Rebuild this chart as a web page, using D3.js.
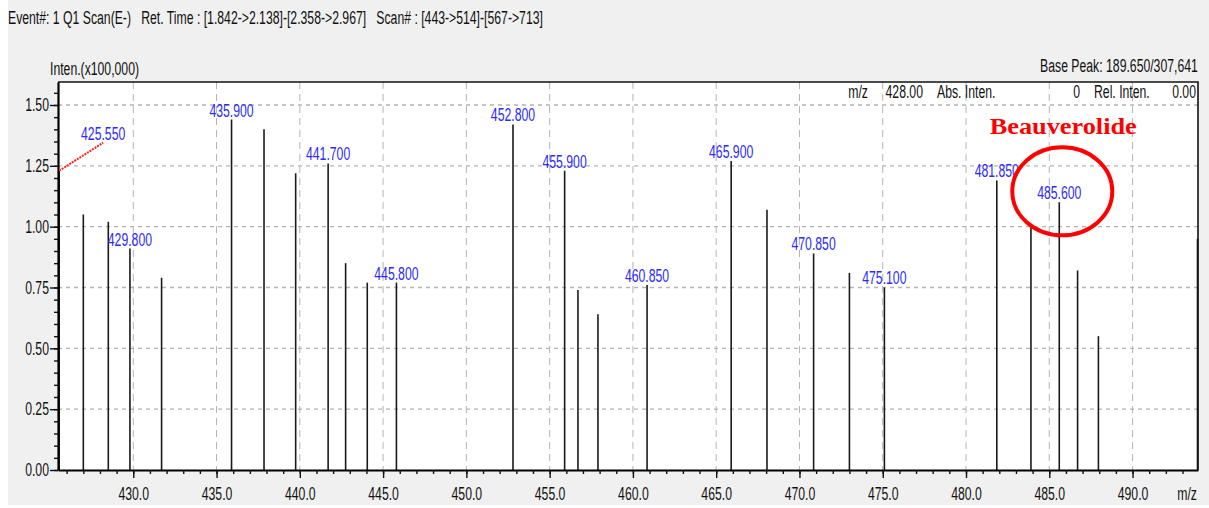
<!DOCTYPE html>
<html>
<head>
<meta charset="utf-8">
<script src="https://cdn.jsdelivr.net/npm/d3@7/dist/d3.min.js"></script>
<style>
  body { margin: 0; background: #fff; }
  svg { display: block; }
</style>
</head>
<body>
<div id="chart"></div>
<script>
// spectrum peaks (m/z, intensity x100,000)
const peakMz = [425.55, 427.0, 428.5, 429.8, 431.7, 435.9, 437.85, 439.75, 441.7, 442.75,
  444.05, 445.8, 452.8, 455.9, 456.7, 457.9, 460.85, 465.9, 468.05, 470.85,
  473.0, 475.1, 481.85, 483.9, 485.6, 486.7, 487.95, 493.9];
const peakInten = [1.23, 1.05, 1.02, 0.91, 0.79, 1.44, 1.40, 1.22, 1.26, 0.85,
  0.77, 0.77, 1.42, 1.23, 0.74, 0.64, 0.76, 1.27, 1.07, 0.89,
  0.81, 0.75, 1.19, 1.00, 1.10, 0.82, 0.55, 0.95];
const labelledMz = [425.55, 429.8, 435.9, 441.7, 445.8, 452.8, 455.9, 460.85, 465.9,
  470.85, 475.1, 481.85, 485.6];
const yTicks = [0, 0.25, 0.5, 0.75, 1.0, 1.25, 1.5];
const xTicks = [430, 435, 440, 445, 450, 455, 460, 465, 470, 475, 480, 485, 490];
const headerText = 'Event#: 1 Q1 Scan(E-)   Ret. Time : [1.842->2.138]-[2.358->2.967]   Scan# : [443->514]-[567->713]';
const cursorInfo = ['m/z', '428.00', 'Abs. Inten.', '0', 'Rel. Inten.', '0.00'];
const basePeak = 'Base Peak: 189.650/307,641';
const yTitle = 'Inten.(x100,000)';
const highlightMz = 485.6;
const highlightName = 'Beauverolide';

const width = 1209, height = 508;
const pLeft = 58, pRight = 1198, pTop = 82, pBottom = 470;
const FS = 18, SQ = 0.68;
const sans = '"Liberation Sans", Arial, sans-serif';

const svg = d3.select('#chart').append('svg')
  .attr('width', width)
  .attr('height', height)
  .style('font-family', sans);

// squeeze the tall narrow instrument font horizontally, keeping its anchor point
function squish(sel, k) {
  sel.each(function () {
    const t = d3.select(this);
    const w = this.getComputedTextLength() * k;
    const anchor = getComputedStyle(this).textAnchor || 'start';
    const x0 = +t.attr('x') || 0;
    const shift = anchor === 'end' ? w : anchor === 'middle' ? w / 2 : 0;
    t.attr('x', 0).attr('text-anchor', 'start')
      .attr('transform', `translate(${x0 - shift},0) scale(${k},1)`);
  });
}

svg.append('rect').attr('x', 8).attr('y', 0).attr('width', width - 8).attr('height', 505)
  .attr('fill', '#f0f0f0');
svg.append('rect').attr('x', pLeft).attr('y', pTop).attr('width', pRight - pLeft).attr('height', pBottom - pTop)
  .attr('fill', '#fff');

const x = d3.scaleLinear().domain([425.48, 493.93]).range([pLeft, pRight]);
const y = d3.scaleLinear().domain([0, 1.5945]).range([pBottom, pTop]);

// grid
const grid = svg.append('g').attr('stroke', '#b4b4b4').attr('stroke-width', 1.3);
grid.selectAll('.h').data(yTicks.filter(d => d > 0)).join('line')
  .attr('x1', pLeft).attr('x2', pRight)
  .attr('y1', d => y(d)).attr('y2', d => y(d))
  .attr('stroke-dasharray', '4,4');
grid.selectAll('.v').data(xTicks).join('line')
  .attr('x1', d => x(d)).attr('x2', d => x(d))
  .attr('y1', pTop).attr('y2', pBottom)
  .attr('stroke-width', 1)
  .attr('stroke-dasharray', '7,5');

// cursor info row
const infoX = [868, 923, 937, 1080, 1094, 1196];
const infoAnchor = ['end', 'end', 'start', 'end', 'start', 'end'];
svg.append('g').selectAll('text').data(cursorInfo).join('text')
  .attr('x', (d, i) => infoX[i]).attr('y', 98)
  .attr('text-anchor', (d, i) => infoAnchor[i])
  .attr('font-size', FS).attr('fill', '#111')
  .text(d => d)
  .call(squish, SQ);

// stems
const peaks = peakMz.map((m, i) => ({ mz: m, v: peakInten[i] }));
svg.append('g').selectAll('line').data(peaks).join('line')
  .attr('x1', d => x(d.mz)).attr('x2', d => x(d.mz))
  .attr('y1', y(0)).attr('y2', d => y(d.v))
  .attr('stroke', '#1a1a1a').attr('stroke-width', 1.6);

// frame top/right
svg.append('path')
  .attr('d', `M${pLeft},${pTop}H${pRight}V${pBottom}`)
  .attr('fill', 'none').attr('stroke', '#111').attr('stroke-width', 1.6);

// axes
svg.append('g').attr('transform', `translate(${pLeft},0)`)
  .call(d3.axisLeft(y).tickValues(yTicks).tickFormat(d3.format('.2f')).tickSize(8).tickPadding(1).tickSizeOuter(0));
svg.append('g').attr('transform', `translate(${pLeft},0)`)
  .call(d3.axisLeft(y).tickValues(d3.range(0, 1.5501, 0.05)).tickFormat('').tickSize(4).tickSizeOuter(0))
  .select('.domain').remove();
svg.append('g').attr('transform', `translate(0,${pBottom})`)
  .call(d3.axisBottom(x).tickValues(xTicks).tickFormat(d3.format('.1f')).tickSize(8).tickPadding(9).tickSizeOuter(0));
svg.append('g').attr('transform', `translate(0,${pBottom})`)
  .call(d3.axisBottom(x).tickValues(d3.range(426, 494, 1)).tickFormat('').tickSize(4).tickSizeOuter(0))
  .select('.domain').remove();

svg.selectAll('.domain').attr('stroke', '#000').attr('stroke-width', 2.2);
svg.selectAll('.tick line').attr('stroke', '#111').attr('stroke-width', 1.4);
svg.selectAll('.tick text').filter(function () { return this.textContent !== ''; })
  .style('font-family', sans).style('font-size', FS + 'px')
  .attr('fill', '#111')
  .call(squish, SQ);

// peak labels
const labelData = peaks.filter(p => labelledMz.includes(p.mz));
const lab = svg.append('g');
labelData.forEach(p => {
  const px = x(p.mz), py = y(p.v);
  let tx = px, ty = py - 3;
  if (p.mz === labelledMz[0]) {
    // leader for the peak sitting on the axis
    tx = px + 44; ty = py - 31;
    lab.append('line')
      .attr('x1', px).attr('y1', py).attr('x2', px + 44).attr('y2', py - 28)
      .attr('stroke', '#ff2020').attr('stroke-width', 2).attr('stroke-dasharray', '2,1');
  }
  lab.append('text')
    .attr('x', tx).attr('y', ty)
    .attr('text-anchor', 'middle')
    .attr('font-size', FS).attr('fill', '#2a2aff')
    .text(d3.format('.3f')(p.mz))
    .call(squish, SQ);
});

// titles
svg.append('text').attr('x', 8).attr('y', 24).attr('font-size', FS).attr('fill', '#111')
  .attr('xml:space', 'preserve')
  .text(headerText).call(squish, SQ);
svg.append('text').attr('x', 50).attr('y', 75).attr('font-size', FS).attr('fill', '#111')
  .text(yTitle).call(squish, SQ);
svg.append('text').attr('x', pRight).attr('y', 72).attr('text-anchor', 'end')
  .attr('font-size', FS).attr('fill', '#111')
  .text(basePeak).call(squish, SQ);
svg.append('text').attr('x', 1197).attr('y', 500).attr('text-anchor', 'end')
  .attr('font-size', FS).attr('fill', '#111')
  .text('m/z').call(squish, SQ);

// highlight annotation
const hp = peaks.find(p => p.mz === highlightMz);
svg.append('ellipse')
  .attr('cx', x(hp.mz) + 3).attr('cy', y(hp.v) - 11)
  .attr('rx', 50).attr('ry', 44)
  .attr('fill', 'none').attr('stroke', '#ff0000').attr('stroke-width', 4);
svg.append('text')
  .attr('x', x(hp.mz) + 4 - 73.5).attr('y', 134)
  .style('font-family', '"Liberation Serif", "Times New Roman", serif')
  .attr('font-weight', 'bold').attr('font-size', 24).attr('fill', '#ff0000')
  .attr('textLength', 147).attr('lengthAdjust', 'spacingAndGlyphs')
  .text(highlightName);
</script>
</body>
</html>
